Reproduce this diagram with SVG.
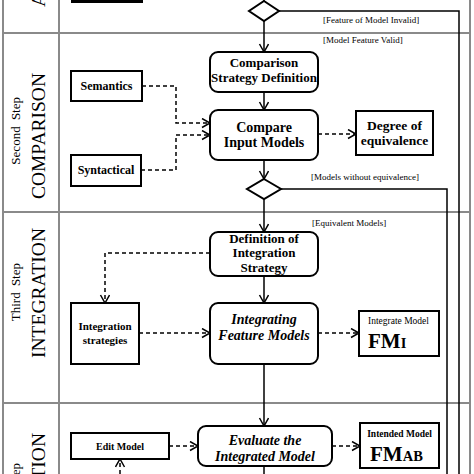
<svg xmlns="http://www.w3.org/2000/svg" width="474" height="474" viewBox="0 0 474 474">
<style>
.lane{fill:none;stroke:#8a8a8a;stroke-width:2}
.node{fill:#fff;stroke:#000;stroke-width:2}
.t{font-family:"Liberation Serif","Times New Roman",serif;fill:#000}
.b{font-weight:bold}
.bi{font-weight:bold;font-style:italic}
.lbl{font-family:"Liberation Serif","Times New Roman",serif;font-size:9px;fill:#000}
.big{font-family:"Liberation Serif","Times New Roman",serif;font-size:19.5px;fill:#000}
.small{font-family:"Liberation Serif","Times New Roman",serif;font-size:13px;word-spacing:3px;fill:#000}
.solid{fill:none;stroke:#000;stroke-width:1.5}
.dash{fill:none;stroke:#000;stroke-width:1.5;stroke-dasharray:4 3}
</style>
<defs>
<marker id="arr" markerUnits="userSpaceOnUse" markerWidth="12" markerHeight="12" refX="9" refY="5" orient="auto">
<path d="M1,0.5 L9,5 L1,9.5" fill="none" stroke="#000" stroke-width="1.5"/>
</marker>
</defs>
<rect width="474" height="474" fill="#fff"/>
<g id="lanes">
<line class="lane" x1="3" y1="0" x2="3" y2="474"/>
<line class="lane" x1="59" y1="0" x2="59" y2="474"/>
<line class="lane" x1="470" y1="0" x2="470" y2="474"/>
<line class="lane" x1="3" y1="33" x2="470" y2="33"/>
<line class="lane" x1="3" y1="212" x2="470" y2="212"/>
<line class="lane" x1="3" y1="403" x2="470" y2="403"/>
<text class="big" text-anchor="end" transform="translate(45,-7) rotate(-90)">A</text>
<text class="big" text-anchor="end" transform="translate(45,73) rotate(-90)">COMPARISON</text>
<text class="small" text-anchor="end" transform="translate(20,97) rotate(-90)">Second Step</text>
<text class="big" text-anchor="end" transform="translate(45,228) rotate(-90)">INTEGRATION</text>
<text class="small" text-anchor="end" transform="translate(20,263) rotate(-90)">Third Step</text>
<text class="big" text-anchor="end" transform="translate(45,433) rotate(-90)">VALIDATION</text>
<text class="small" text-anchor="end" transform="translate(20,463) rotate(-90)">Fourth Step</text>
</g>
<g id="connectors">
<line class="solid" x1="264" y1="-2" x2="264" y2="1"/>
<polyline class="solid" points="279,11 459,11 459,474"/>
<line class="solid" x1="264" y1="21" x2="264" y2="52" marker-end="url(#arr)"/>
<line class="solid" x1="264" y1="92" x2="264" y2="110" marker-end="url(#arr)"/>
<line class="solid" x1="264" y1="160" x2="264" y2="179" marker-end="url(#arr)"/>
<polyline class="solid" points="281,189 447,189 447,474"/>
<line class="solid" x1="264" y1="199" x2="264" y2="232" marker-end="url(#arr)"/>
<line class="solid" x1="264" y1="276" x2="264" y2="303" marker-end="url(#arr)"/>
<line class="solid" x1="264" y1="364" x2="264" y2="426" marker-end="url(#arr)"/>
<line class="solid" x1="264" y1="466" x2="264" y2="474"/>
<polyline class="dash" points="142,86 176,86 176,123 210,123" marker-end="url(#arr)"/>
<polyline class="dash" points="141,170 176,170 176,135 210,135" marker-end="url(#arr)"/>
<line class="dash" x1="318" y1="134" x2="356" y2="134" marker-end="url(#arr)"/>
<polyline class="dash" points="210,253 105,253 105,303" marker-end="url(#arr)"/>
<line class="dash" x1="139" y1="333" x2="210" y2="333" marker-end="url(#arr)"/>
<line class="dash" x1="318" y1="333" x2="359" y2="333" marker-end="url(#arr)"/>
<line class="dash" x1="169" y1="446" x2="198" y2="446" marker-end="url(#arr)"/>
<line class="dash" x1="332" y1="446" x2="360" y2="446" marker-end="url(#arr)"/>
<line class="dash" x1="120" y1="474" x2="120" y2="459" marker-end="url(#arr)"/>
<text class="lbl" x="323" y="23">[Feature of Model Invalid]</text>
<text class="lbl" x="323" y="43">[Model Feature Valid]</text>
<text class="lbl" x="311" y="180">[Models without equivalence]</text>
<text class="lbl" x="312" y="226">[Equivalent Models]</text>
</g>
<g id="top-node"><rect x="71" y="-4" width="72" height="7" fill="#000"/></g>
<g id="decision1"><polygon class="node" points="264,1 279,11 264,21 249,11"/></g>
<g id="comparison-strategy">
<rect class="node" x="210" y="52" width="108" height="40" rx="8"/>
<text class="t b" font-size="13" text-anchor="middle" x="264" y="67">Comparison</text>
<text class="t b" font-size="13" text-anchor="middle" x="264" y="82">Strategy Definition</text>
</g>
<g id="semantics">
<rect class="node" x="71" y="71" width="71" height="30"/>
<text class="t b" font-size="12" text-anchor="middle" x="106.5" y="90">Semantics</text>
</g>
<g id="syntactical">
<rect class="node" x="71" y="155" width="70" height="31"/>
<text class="t b" font-size="12" text-anchor="middle" x="106" y="174">Syntactical</text>
</g>
<g id="compare-input">
<rect class="node" x="210" y="110" width="108" height="50" rx="8"/>
<text class="t b" font-size="14" text-anchor="middle" x="264" y="132">Compare</text>
<text class="t b" font-size="14" text-anchor="middle" x="264" y="147">Input Models</text>
</g>
<g id="degree">
<rect class="node" x="356" y="111" width="77" height="44"/>
<text class="t b" font-size="13.5" text-anchor="middle" x="394.5" y="130">Degree of</text>
<text class="t b" font-size="13.5" text-anchor="middle" x="394.5" y="145">equivalence</text>
</g>
<g id="decision2"><polygon class="node" points="264,179 281,189 264,199 247,189"/></g>
<g id="definition-integration">
<rect class="node" x="210" y="232" width="108" height="44" rx="8"/>
<text class="t b" font-size="13" text-anchor="middle" x="264" y="243">Definition of</text>
<text class="t b" font-size="13" text-anchor="middle" x="264" y="257">Integration</text>
<text class="t b" font-size="13" text-anchor="middle" x="264" y="272">Strategy</text>
</g>
<g id="integration-strategies">
<rect class="node" x="71" y="303" width="68" height="61"/>
<text class="t b" font-size="11" text-anchor="middle" x="105" y="330">Integration</text>
<text class="t b" font-size="11" text-anchor="middle" x="105" y="344">strategies</text>
</g>
<g id="integrating">
<rect class="node" x="210" y="303" width="108" height="61" rx="8"/>
<text class="t bi" font-size="14" text-anchor="middle" x="264" y="324">Integrating</text>
<text class="t bi" font-size="14" text-anchor="middle" x="264" y="340">Feature Models</text>
</g>
<g id="integrate-model">
<rect class="node" x="359" y="311" width="80" height="45"/>
<text class="t" font-size="9.5" x="368" y="324">Integrate Model</text>
<text class="t b" x="368" y="348"><tspan font-size="21">FM</tspan><tspan font-size="14.5">I</tspan></text>
</g>
<g id="edit-model">
<rect class="node" x="71" y="433" width="98" height="26"/>
<text class="t b" font-size="10" text-anchor="middle" x="120" y="450">Edit Model</text>
</g>
<g id="evaluate">
<rect class="node" x="198" y="426" width="134" height="40" rx="8"/>
<text class="t bi" font-size="14" text-anchor="middle" x="265" y="445">Evaluate the</text>
<text class="t bi" font-size="14" text-anchor="middle" x="265" y="461">Integrated Model</text>
</g>
<g id="intended-model">
<rect class="node" x="360" y="423" width="79" height="45"/>
<text class="t b" font-size="9.5" text-anchor="middle" x="399.5" y="437">Intended Model</text>
<text class="t b" x="370" y="461"><tspan font-size="21">FM</tspan><tspan font-size="14.5">AB</tspan></text>
</g>
</svg>
